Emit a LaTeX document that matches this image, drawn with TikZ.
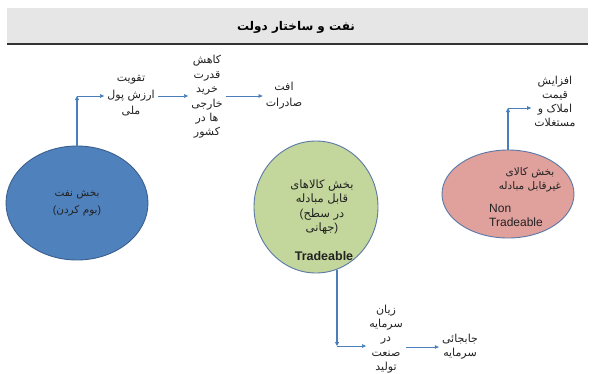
\documentclass[tikz,border=0pt]{standalone}
\usepackage{fontspec}
\setmainfont{Liberation Sans}
\newfontfamily\fa[Script=Arabic]{DejaVu Sans}
\TeXXeTstate=1
\usetikzlibrary{shapes.geometric,arrows.meta}
\definecolor{barfill}{HTML}{E6E6E6}
\definecolor{barline}{HTML}{333333}
\definecolor{oilblue}{HTML}{4F81BD}
\definecolor{oilline}{HTML}{3A5F8F}
\definecolor{tradgreen}{HTML}{C3D69B}
\definecolor{nontrad}{HTML}{E0A09C}
\definecolor{edgeblue}{HTML}{5A78A8}
\definecolor{arrowblue}{HTML}{4A7EBB}
\definecolor{txt}{HTML}{222222}
\newcommand{\RL}[1]{\beginR #1\endR}
\newcommand{\lpar}{{\rmfamily(}}
\newcommand{\rpar}{{\rmfamily)}}
\begin{document}
\begin{tikzpicture}[x=1pt,y=-1pt,
  bar/.style={rectangle, fill=barfill, minimum width=581pt, minimum height=36pt, inner sep=0pt},
  titletext/.style={font=\fa\bfseries\fontsize{12}{14}\selectfont, text=black, inner sep=0pt},
  ell/.style={ellipse, draw=edgeblue, line width=0.9pt, inner sep=0pt, align=center, text=txt},
  fatext/.style={font=\fa\fontsize{11}{14.4}\selectfont, align=center, text=txt, inner xsep=3pt, inner ysep=1pt},
  entext/.style={font=\rmfamily\fontsize{12}{14}\selectfont, align=left, text=txt, inner sep=0pt},
  arr/.style={draw=arrowblue, line width=0.6pt, -{Triangle[length=4pt,width=3.5pt]}},
  vline/.style={draw=arrowblue, line width=1.4pt, -{Triangle[length=4pt,width=4pt]}}
]
\useasboundingbox (0,0) rectangle (592,373);
\fill[white] (0,0) rectangle (592,373);

% title bar
\node[bar] (titlebar) at (297.5,26) {};
\node[titletext] (title) at (296,27.5) {\RL{نفت و ساختار دولت}};
\draw[barline, line width=1.8pt] (titlebar.south west) -- (titlebar.south east);

% main ellipses
\node[ell, fill=oilblue, draw=oilline, minimum width=142pt, minimum height=114pt,
      font=\fa\fontsize{10.5}{17}\selectfont] (oil) at (77,203)
      {\RL{بخش نفت}\\\lpar\RL{بوم کردن}\rpar};
\node[ell, fill=tradgreen, minimum width=124pt, minimum height=132pt] (trad) at (316,207) {};
\node[fatext, font=\fa\fontsize{11.5}{14.5}\selectfont] (tradfa) at (322,207)
      {\RL{بخش کالاهای}\\\RL{قابل مبادله}\\\lpar\RL{در سطح}\\\RL{جهانی}\rpar};
\node[entext, font=\rmfamily\bfseries\fontsize{12.5}{14}\selectfont] (traden) at (324,256) {Tradeable};
\node[ell, fill=nontrad, minimum width=132pt, minimum height=88pt] (nontr) at (508,194) {};
\node[fatext, font=\fa\fontsize{10.5}{14}\selectfont] (ntfa) at (530,180)
      {\RL{بخش کالای}\\\RL{غیرقابل مبادله}};
\node[entext, anchor=west] (nten) at (489,215) {Non\\Tradeable};

% text nodes
\node[fatext, font=\fa\fontsize{11}{16.5}\selectfont] (t1) at (131,96)
      {\RL{تقویت}\\\RL{ارزش پول}\\\RL{ملی}};
\node[fatext] (t2) at (207,97)
      {\RL{کاهش}\\\RL{قدرت}\\\RL{خرید}\\\RL{خارجی}\\\RL{ها در}\\\RL{کشور}};
\node[fatext, font=\fa\fontsize{11}{16}\selectfont] (t3) at (284,96)
      {\RL{افت}\\\RL{صادرات}};
\node[fatext, font=\fa\fontsize{11}{14.2}\selectfont] (t5) at (386,339)
      {\RL{زیان}\\\RL{سرمایه}\\\RL{در}\\\RL{صنعت}\\\RL{تولید}};
\node[fatext, font=\fa\fontsize{11}{14}\selectfont] (t6) at (460,347)
      {\RL{جابجائی}\\\RL{سرمایه}};
\node[fatext, font=\fa\fontsize{11}{14}\selectfont] (t7) at (555,101)
      {\RL{افزایش}\\\RL{قیمت}\\\RL{املاک و}\\\RL{مستغلات}};

% corner points
\coordinate (c1) at (oil.north |- t1);
\coordinate (c3) at (337,346);
\coordinate (c4) at (nontr.north |- 0,108);

% connectors
\draw[vline] (oil.north) -- (c1);
\draw[arr] (c1) -- (c1 -| t1.west);
\draw[arr] (t1.east) -- (t1.east -| t2.west);
\draw[arr] (t2.east |- t3) -- (t3.west);
\draw[vline] (c3 |- trad.-72) -- (c3);
\draw[arr] (c3) -- (c3 -| t5.west);
\draw[arr] (t5.east |- t6.west) -- (t6.west);
\draw[vline] (nontr.north) -- (c4);
\draw[arr] (c4) -- (c4 -| t7.west);
\end{tikzpicture}
\end{document}
